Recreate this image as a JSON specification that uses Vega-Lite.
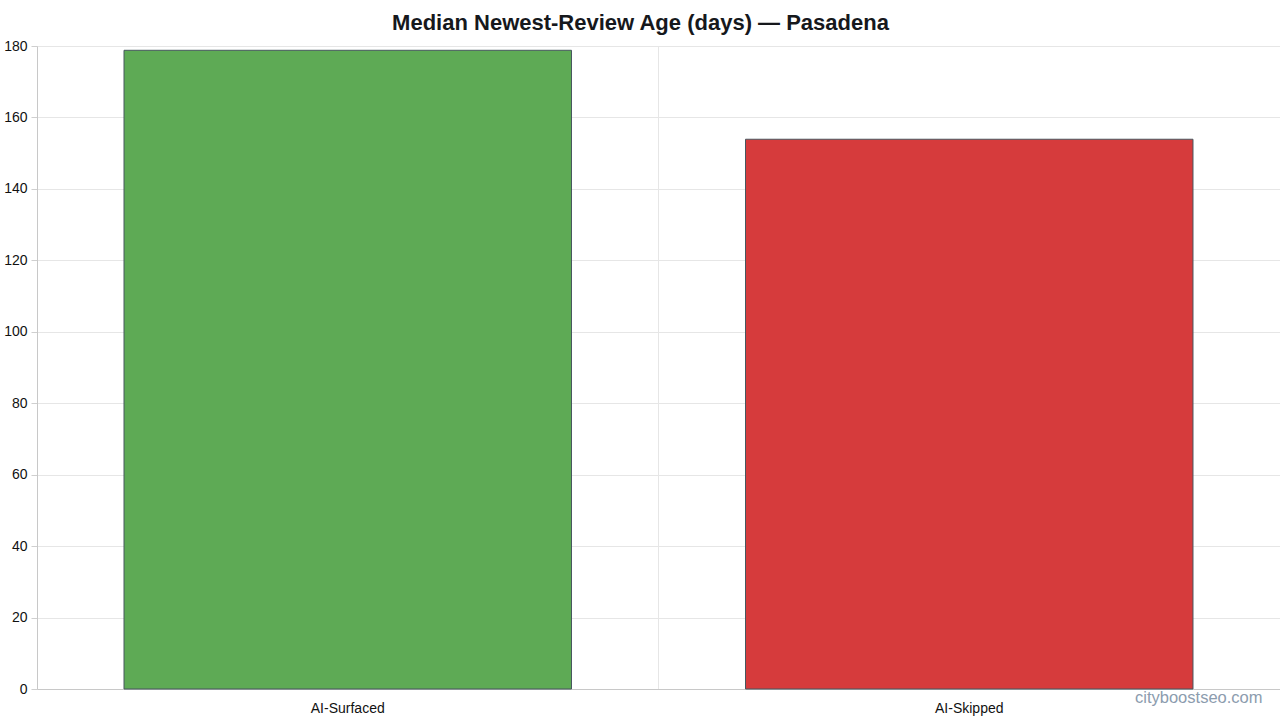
{
  "$schema": "https://vega.github.io/schema/vega-lite/v6.json",
  "description": "Median newest-review age in days, AI-surfaced vs AI-skipped businesses, Pasadena.",
  "autosize": "none",
  "width": 1243,
  "height": 643,
  "padding": {"left": 37, "top": 46, "right": 0, "bottom": 31},
  "background": "white",
  "config": {
    "font": "Liberation Sans",
    "view": {"stroke": null}
  },
  "title": {
    "text": "Median Newest-Review Age (days) — Pasadena",
    "fontSize": 22,
    "fontWeight": "bold",
    "color": "#16181c",
    "font": "Liberation Sans",
    "baseline": "alphabetic",
    "offset": 17,
    "dx": -18,
    "dy": 30
  },
  "data": {
    "values": [
      {"group": "AI-Surfaced", "days": 178.8},
      {"group": "AI-Skipped", "days": 153.9}
    ]
  },
  "layer": [
    {
      "mark": {"type": "bar", "stroke": "#47575f", "strokeWidth": 1},
      "encoding": {
        "x": {
          "field": "group",
          "type": "nominal",
          "sort": null,
          "scale": {"paddingInner": 0.28, "paddingOuter": 0.14},
          "axis": {
            "title": "cityboostseo.com",
            "titleFontSize": 16.5,
            "titleFontWeight": "normal",
            "titleColor": "#8c9cae",
            "titleAnchor": "end",
            "titleAlign": "right",
            "titleBaseline": "middle",
            "titleX": 1225,
            "titleY": 8,
            "labelAngle": 0,
            "labelFontSize": 14,
            "labelColor": "#111111",
            "labelPadding": 12,
            "ticks": false,
            "grid": false,
            "domainColor": "#c8c8c8"
          }
        },
        "y": {
          "field": "days",
          "type": "quantitative",
          "scale": {"domain": [0, 180]},
          "axis": {
            "title": null,
            "values": [0, 20, 40, 60, 80, 100, 120, 140, 160, 180],
            "labelFontSize": 14,
            "labelColor": "#111111",
            "labelPadding": 4,
            "tickSize": 6,
            "tickColor": "#cfcfcf",
            "domainColor": "#c8c8c8",
            "gridColor": "#e6e6e6"
          }
        },
        "color": {
          "field": "group",
          "type": "nominal",
          "scale": {"domain": ["AI-Surfaced", "AI-Skipped"], "range": ["#5eaa55", "#d63b3c"]},
          "legend": null
        }
      }
    },
    {
      "mark": {"type": "bar", "opacity": 0},
      "encoding": {
        "x": {
          "field": "group",
          "type": "nominal",
          "sort": null,
          "axis": {
            "orient": "top",
            "title": null,
            "labels": false,
            "ticks": false,
            "domain": false,
            "grid": true,
            "gridColor": "#e6e6e6",
            "bandPosition": -0.194
          }
        },
        "y": {"field": "days", "type": "quantitative"}
      }
    }
  ],
  "resolve": {"axis": {"x": "independent"}}
}
